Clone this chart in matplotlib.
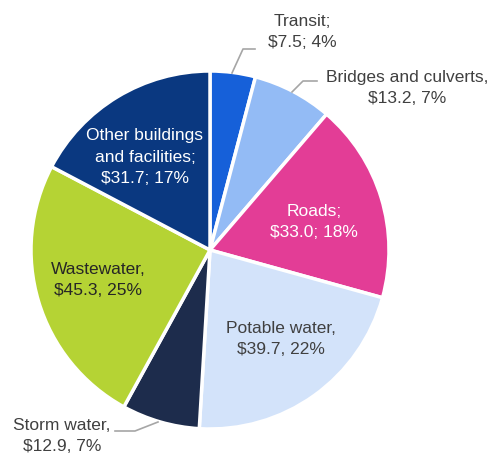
import matplotlib.pyplot as plt

# Data
categories = ['Transit', 'Bridges and culverts', 'Roads', 'Potable water',
              'Storm water', 'Wastewater', 'Other buildings\nand facilities']
values = [7.5, 13.2, 33.0, 39.7, 12.9, 45.3, 31.7]
percents = [4, 7, 18, 22, 7, 25, 17]
colors = ['#1660d9', '#93bbf5', '#e33d96', '#d3e3fa', '#1d2c4c', '#b5d334', '#0a3880']
seps = [';', ',', ';', ',', ',', ',', ';']

plt.rcParams['font.family'] = ['Liberation Sans', 'DejaVu Sans']

W, H = 493, 459
fig = plt.figure(figsize=(W / 100, H / 100), dpi=100)
ax = fig.add_axes([0, 0, 1, 1])

cx, cy, r = 210, H - 250, 179
ax.pie(values, colors=colors, startangle=90, counterclock=False,
       center=(cx, cy), radius=r, frame=True,
       wedgeprops=dict(edgecolor='white', linewidth=2.5))
ax.set_xlim(0, W)
ax.set_ylim(0, H)
ax.axis('off')

# label centres in pixel coords
label_pos = [(302, 32), (407, 88), (314, 222), (281, 339), (62, 436), (98, 280), (145, 157)]
text_col = ['#404040', '#404040', 'white', '#404040', '#404040', '#262626', 'white']
for i, name in enumerate(categories):
    s = seps[i]
    txt = f'{name}{s}\n${values[i]:.1f}{s} {percents[i]}%'
    x, y = label_pos[i]
    ax.text(x, H - y, txt, ha='center', va='center', fontsize=12.5,
            color=text_col[i], linespacing=1.55)

# leader lines
leaders = [[(232, 73), (243, 49), (255, 49)],
           [(292, 92), (303, 81), (317, 81)],
           [(158, 422), (135, 431), (115, 431)]]
for pts in leaders:
    ax.plot([p[0] for p in pts], [H - p[1] for p in pts], color='#a6a6a6', lw=1.2)

fig.savefig('out.png', dpi=100)
